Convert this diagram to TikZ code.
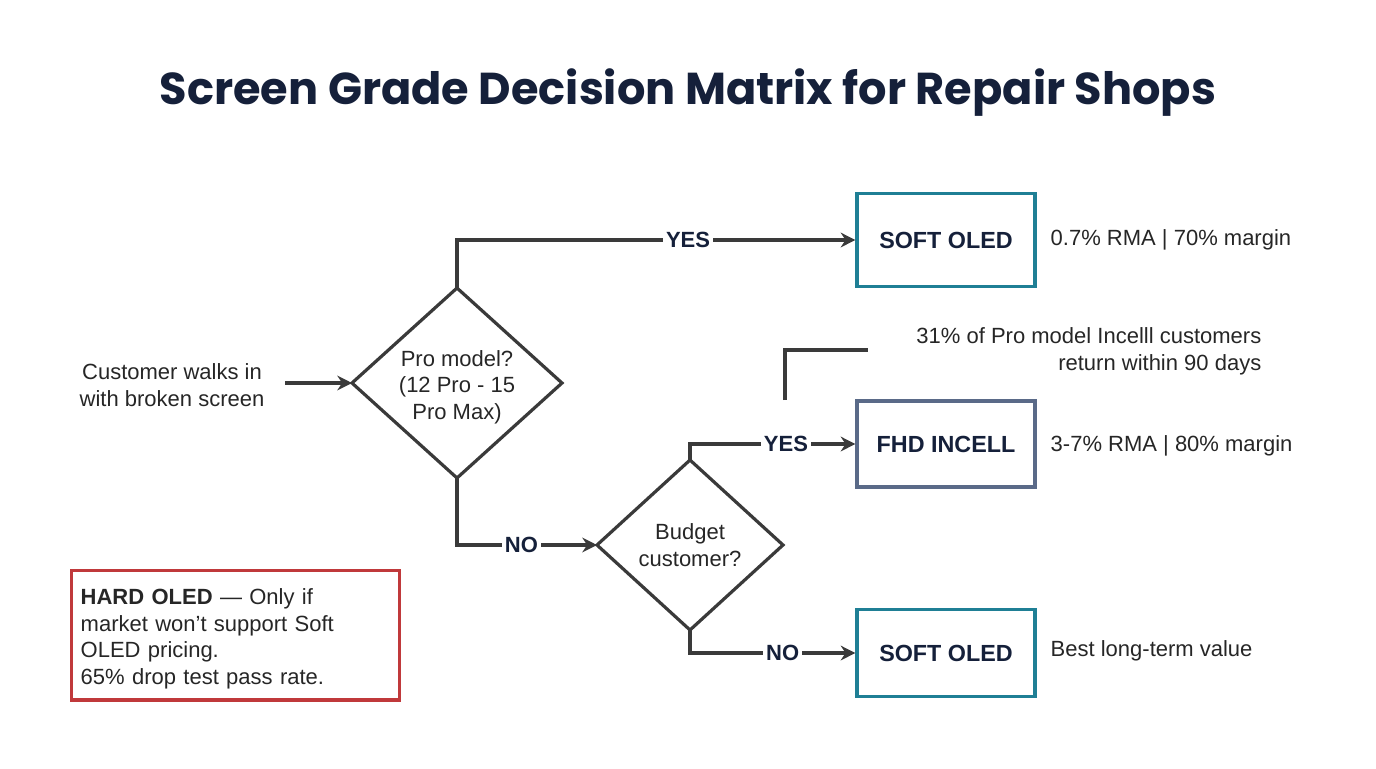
\documentclass[tikz,border=0pt]{standalone}
\usepackage{fontspec}
\setmainfont{Liberation Sans}
\newfontfamily\titlefont{Poppins}
\usetikzlibrary{shapes.geometric,arrows.meta}
\definecolor{navy}{HTML}{15203A}
\definecolor{teal}{HTML}{1F7F95}
\definecolor{slate}{HTML}{5A6A88}
\definecolor{redb}{HTML}{C0393B}
\definecolor{ln}{HTML}{3A3A3A}
\begin{document}
\begin{tikzpicture}[x=0.75pt,y=-0.75pt,
  txt/.style={font=\fontsize{16.5}{20}\selectfont,text=black!85,align=center},
  lbl/.style={font=\fontsize{16.5}{19}\selectfont\bfseries,text=navy,fill=white,inner sep=2pt},
  box/.style={draw=#1,line width=2.4pt,minimum width=133.5pt,minimum height=70pt,font=\fontsize{17.5}{19}\selectfont\bfseries,text=navy},
  con/.style={draw=ln,line width=2.4pt},
  arr/.style={con,-{Stealth[length=11pt,width=11pt]}}]
\useasboundingbox (0,0) rectangle (1376,768);
\node[font=\titlefont\fontsize{33.5}{40}\selectfont\bfseries,text=navy] (title) at (688,93) {Screen Grade Decision Matrix for Repair Shops};
\node[txt] (start) at (172,385) {Customer walks in\\with broken screen};
\path (352,383) coordinate (d1w) (562,383) coordinate (d1e) (457,288) coordinate (d1n) (457,478) coordinate (d1s);
\draw[con] (d1n) -- (d1e) -- (d1s) -- (d1w) -- cycle;
\node[txt] (d1t) at (457,387) {Pro model?\\(12 Pro - 15\\Pro Max)};
\path (597,545) coordinate (d2w) (783,545) coordinate (d2e) (690,460) coordinate (d2n) (690,630) coordinate (d2s);
\draw[con] (d2n) -- (d2e) -- (d2s) -- (d2w) -- cycle;
\node[txt] (d2t) at (690,545) {Budget\\customer?};
\node[box=teal] (s1) at (946,240) {SOFT OLED};
\node[box=slate,minimum height=64.5pt] (fhd) at (946,444) {FHD INCELL};
\node[box=teal,minimum height=65pt] (s2) at (946,653) {SOFT OLED};
\node[txt,anchor=west] (n1) at (1046,240) {0.7\% RMA | 70\% margin};
\node[txt,anchor=west] (n2) at (1046,446) {3-7\% RMA | 80\% margin};
\node[txt,anchor=west] (n3) at (1046,651) {Best long-term value};
\node[txt,align=right,anchor=east] (call) at (1266,351) {31\% of Pro model Incelll customers\\return within 90 days};
\coordinate (cA) at (785,400);
\coordinate (cB) at (868,350);
\draw[con] (cA) -- (cA |- cB) -- (cB);
\coordinate (sa) at (285,383);
\draw[arr] (sa) -- (d1w);
\draw[arr] (d1n) |- (s1.west) node[lbl,pos=0.79] {YES};
\draw[arr] (d1s) |- (d2w) node[lbl,pos=0.73] {NO};
\draw[arr] (d2n) |- (fhd.west) node[lbl,pos=0.79] {YES};
\draw[arr] (d2s) |- (s2.west) node[lbl,pos=0.78] {NO};
\node[draw=redb,line width=2.4pt,minimum width=246pt,minimum height=97pt,anchor=north west] (hard) at (70,569) {};
\node[txt,align=left,anchor=north west,text width=230pt] (ht) at (76,584) {\textbf{HARD OLED} --- Only if\\market won't support Soft\\OLED pricing.\\65\% drop test pass rate.};
\end{tikzpicture}
\end{document}
